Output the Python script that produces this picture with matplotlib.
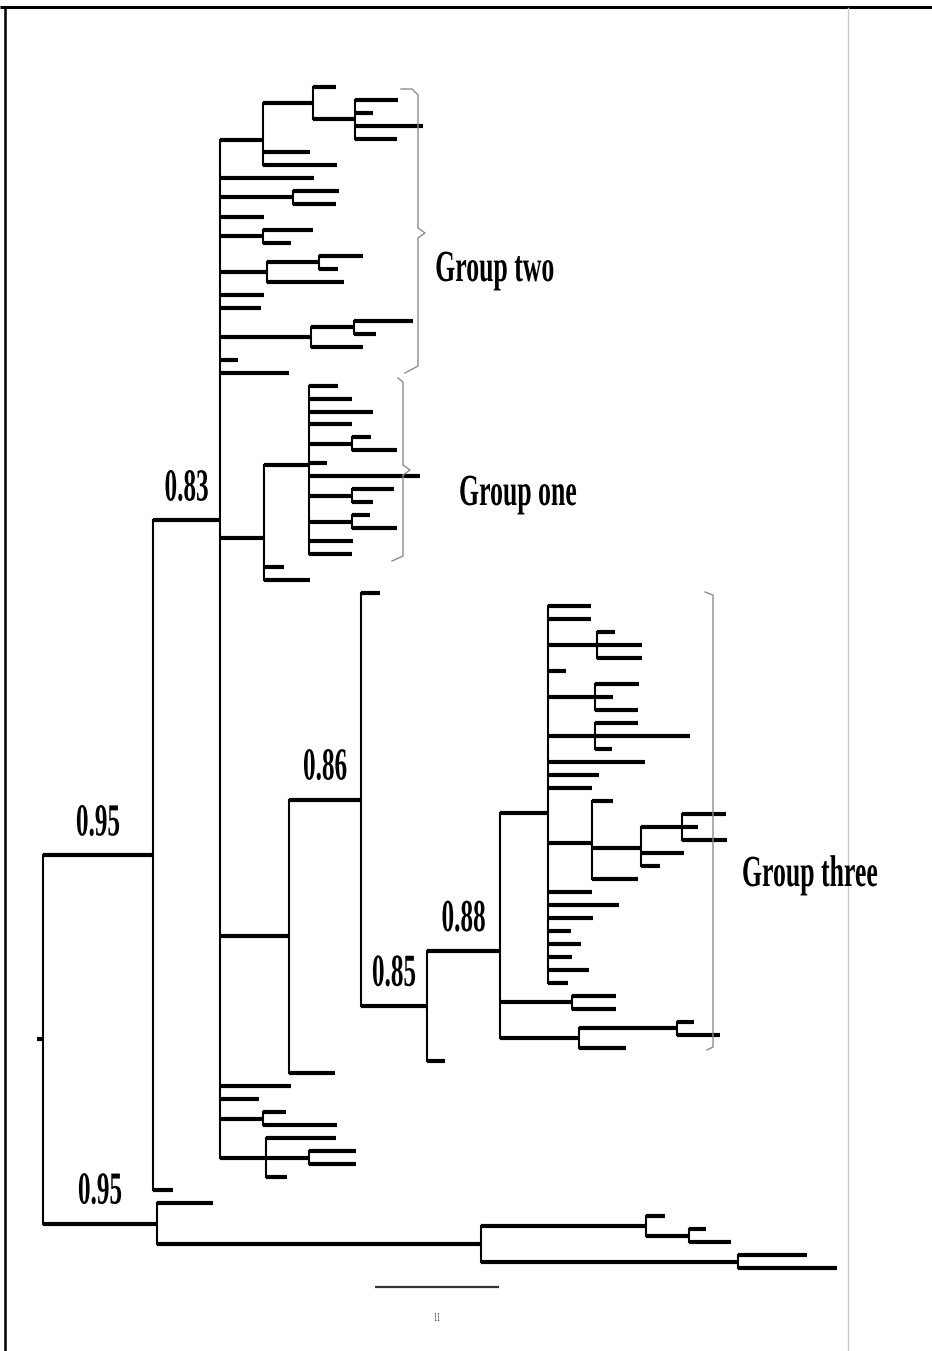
import matplotlib
matplotlib.use('Agg')
import matplotlib.pyplot as plt
import numpy as np
from matplotlib.collections import LineCollection
from matplotlib.patheffects import AbstractPathEffect
from matplotlib.transforms import Affine2D

# tree data: newick pieces, branch lengths in drawing units, support values as node names
group_two = ("((:23,(:43,:18,:68,:42):42):50,:47,:74):43,:94,(:46,:43):73,:44,"
             "(:50,:28):43,((:44,:19):52,:77):47,:44,:41,((:59,:22):43,:52):91,:18,:69")
group_one = "((:29,:43,:64,:43,(:19,:45):43,:18,:111,(:42,:21):43,(:18,:45):43,:44,:43):45,:20,:46):44"
group_three = ("(:43,:43,(:18,:45,:45):49,:18,(:44,:18,:43):47,(:43,:95,:17):47,:97,:51,:44,"
               "(:21,((:44,:16,:45):41,:43,:19):49,:46):44,:44,:71,:45,:23,:33,:24,:41,:20):48")
clade_088 = "(" + group_three + ",(:44,:44):72,((:17,:43):98,:47):79)0.88:73"
clade_086 = "((:19,(" + clade_088 + ",:18)0.85:66)0.86:72,:46):69"
basal_rest = ":71,:39,(:23,:74):43,(:70,(:47,:47):43,:21):46"
clade_083 = "(" + group_two + "," + group_one + "," + clade_086 + "," + basal_rest + ")0.83:67"
outgroup = "(:56,((:19,(:17,:42):43):165,(:69,:99):257):324)0.95:114"
tree_str = "((" + clade_083 + ",:20)0.95:110," + outgroup + "):6"

group_names = ["Group two", "Group one", "Group three"]
scale_label = "11"


def parse_newick(s):
    s = s.replace(" ", "")
    pos = 0

    def node():
        nonlocal pos
        kids = []
        if s[pos] == '(':
            pos += 1
            kids.append(node())
            while s[pos] == ',':
                pos += 1
                kids.append(node())
            pos += 1
        start = pos
        while pos < len(s) and s[pos] not in ':,);':
            pos += 1
        label = s[start:pos]
        length = 0.0
        if pos < len(s) and s[pos] == ':':
            pos += 1
            start = pos
            while pos < len(s) and s[pos] not in ',);':
                pos += 1
            length = float(s[start:pos])
        return {'kids': kids, 'label': label, 'len': length}

    return node()


tree = parse_newick(tree_str)

leaf_top, leaf_step = 87.0, 12.98
counter = [0]


def layout(n, px):
    n['px'] = px
    n['x'] = px + n['len']
    if not n['kids']:
        n['y'] = leaf_top + leaf_step * counter[0]
        counter[0] += 1
    else:
        for k in n['kids']:
            layout(k, n['x'])
        n['y'] = np.mean([k['y'] for k in n['kids']])


layout(tree, 37.0)

hsegs, vsegs, labels = [], [], []


def collect(n):
    hsegs.append([(n['px'], n['y']), (n['x'], n['y'])])
    if n['kids']:
        vsegs.append([(n['x'], n['kids'][0]['y']), (n['x'], n['kids'][-1]['y'])])
        for k in n['kids']:
            collect(k)
    if n['label']:
        labels.append(((n['px'] + n['x']) / 2, n['y'], n['label']))


collect(tree)


class Squish(AbstractPathEffect):
    # narrow the glyphs horizontally, like the stretched scan
    def __init__(self, sx):
        super().__init__()
        self.sx = sx

    def draw_path(self, renderer, gc, tpath, affine, rgbFace=None):
        bb = tpath.get_extents(affine)
        cx = (bb.x0 + bb.x1) / 2
        t = affine + Affine2D().translate(-cx, 0).scale(self.sx, 1).translate(cx, 0)
        renderer.draw_path(gc, tpath, t, rgbFace)


fig = plt.figure(figsize=(9.32, 13.51), dpi=100)
ax = fig.add_axes([0, 0, 1, 1])
ax.set_xlim(0, 932)
ax.set_ylim(1351, 0)
ax.axis('off')

ax.add_collection(LineCollection(hsegs, colors='black', linewidths=3.0, capstyle='butt'))
ax.add_collection(LineCollection(vsegs, colors='black', linewidths=1.5, capstyle='projecting'))

serif = ['Liberation Serif', 'DejaVu Serif']
for x, y, s in labels:
    ax.text(x, y - 20, s, ha='center', va='baseline', fontsize=33, family=serif,
            weight='bold', color='black', path_effects=[Squish(0.55)])

# brackets around the groups
gray = '#8c8c8c'
ax.plot([401, 412, 418, 418, 425, 418, 418, 405], [89, 89, 95, 228, 233, 238, 366, 373], color=gray, lw=1.0)
ax.plot([398, 403, 403, 410, 403, 403, 392], [378, 382, 465, 470, 475, 556, 561], color=gray, lw=1.0)
ax.plot([705, 713, 713, 707], [592, 595, 1047, 1050], color=gray, lw=1.0)

ax.text(495, 281, group_names[0], ha='center', va='baseline', fontsize=32, family=serif,
        weight='bold', path_effects=[Squish(0.58)])
ax.text(518, 505, group_names[1], ha='center', va='baseline', fontsize=32, family=serif,
        weight='bold', path_effects=[Squish(0.58)])
ax.text(810, 886, group_names[2], ha='center', va='baseline', fontsize=32, family=serif,
        weight='bold', path_effects=[Squish(0.58)])

# scale bar
ax.plot([375, 499], [1287, 1287], color='#333333', lw=1.6, solid_capstyle='butt')
ax.text(437, 1318, scale_label, ha='center', va='center', fontsize=9, family=serif, color='#333333',
        path_effects=[Squish(0.5)])

# frame of the scanned page
ax.plot([0, 932], [7, 7], color='black', lw=2.2, solid_capstyle='butt')
ax.plot([5, 5], [7, 1351], color='black', lw=1.8, solid_capstyle='butt')
ax.plot([848, 848], [8, 1351], color='#c8c8c8', lw=1.0)

fig.savefig('out.png', dpi=100, facecolor='white')
